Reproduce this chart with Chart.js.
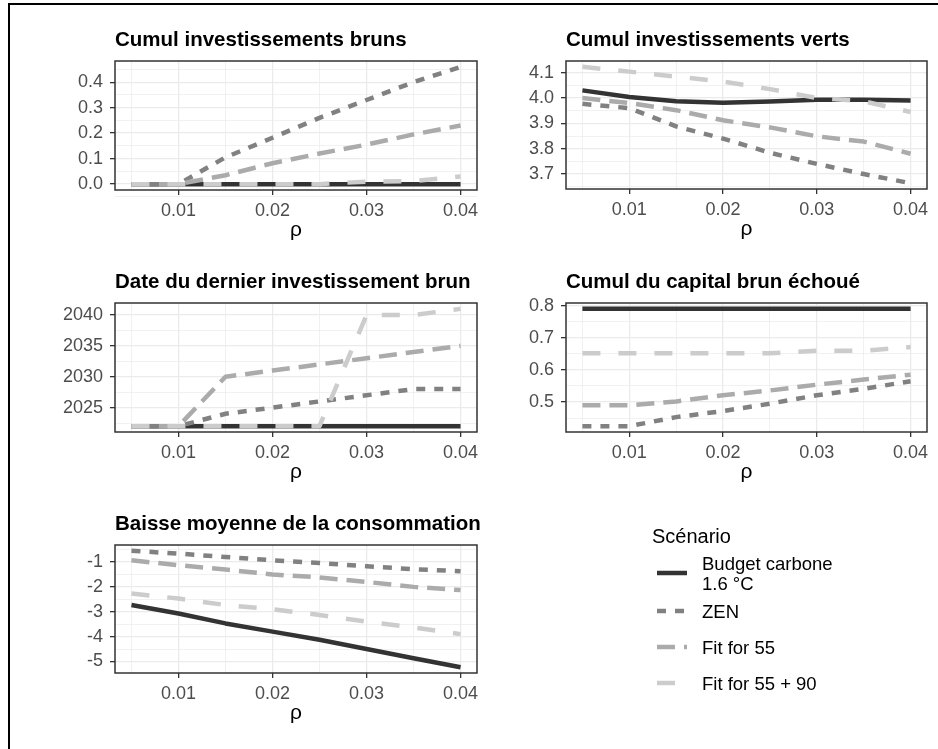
<!DOCTYPE html>
<html>
<head>
<meta charset="utf-8">
<script src="https://cdn.jsdelivr.net/npm/chart.js@4.4.1/dist/chart.umd.min.js"></script>
<style>
  html,body{margin:0;padding:0;background:#fff;}
  body{width:938px;height:749px;position:relative;overflow:hidden;font-family:"Liberation Sans",Arial,sans-serif;}
  canvas{position:absolute;}
  #frame{position:absolute;left:8px;top:3px;width:940px;height:760px;border-left:2px solid #000;border-top:2px solid #000;}
  #legend{position:absolute;left:0;top:0;}
</style>
</head>
<body>
<div id="frame"></div>
<canvas id="p1" width="520" height="245" style="left:0;top:0"></canvas>
<canvas id="p2" width="458" height="245" style="left:480px;top:0"></canvas>
<canvas id="p3" width="520" height="245" style="left:0;top:245px"></canvas>
<canvas id="p4" width="458" height="245" style="left:480px;top:245px"></canvas>
<canvas id="p5" width="520" height="259" style="left:0;top:490px"></canvas>
<svg id="legend" width="938" height="749"></svg>
<script>
// ---- data ----
const rho = [0.005, 0.01, 0.015, 0.02, 0.025, 0.03, 0.035, 0.04];
const scenarios = ['Budget carbone 1.6 °C', 'ZEN', 'Fit for 55', 'Fit for 55 + 90'];
const xTickValues = [0.005, 0.01, 0.015, 0.02, 0.025, 0.03, 0.035, 0.04];
const xTickLabels = ['', '0.01', '', '0.02', '', '0.03', '', '0.04'];

// Cumul investissements bruns
const brunsBudget = [0, 0, 0, 0, 0, 0, 0, 0];
const brunsZEN    = [0, 0, 0.105, 0.182, 0.26, 0.33, 0.40, 0.46];
const brunsFit55  = [0, 0, 0.035, 0.082, 0.12, 0.155, 0.195, 0.23];
const brunsFit90  = [0, 0, 0, 0, 0, 0.01, 0.012, 0.03];
const brunsTicks  = [-0.05, 0, 0.05, 0.1, 0.15, 0.2, 0.25, 0.3, 0.35, 0.4, 0.45];
const brunsLabels = ['', '0.0', '', '0.1', '', '0.2', '', '0.3', '', '0.4', ''];

// Cumul investissements verts
const vertsBudget = [4.03, 4.004, 3.987, 3.981, 3.986, 3.993, 3.993, 3.99];
const vertsZEN    = [3.977, 3.96, 3.888, 3.84, 3.784, 3.74, 3.70, 3.664];
const vertsFit55  = [4.0, 3.98, 3.952, 3.912, 3.884, 3.849, 3.828, 3.78];
const vertsFit90  = [4.123, 4.104, 4.084, 4.065, 4.035, 4.0, 3.987, 3.945];
const vertsTicks  = [3.65, 3.7, 3.75, 3.8, 3.85, 3.9, 3.95, 4.0, 4.05, 4.1];
const vertsLabels = ['', '3.7', '', '3.8', '', '3.9', '', '4.0', '', '4.1'];

// Date du dernier investissement brun
const dateBudget = [2022, 2022, 2022, 2022, 2022, 2022, 2022, 2022];
const dateZEN    = [2022, 2022, 2024, 2025, 2026, 2027, 2028, 2028];
const dateFit55  = [2022, 2022, 2030, 2031, 2032, 2033, 2034, 2035];
const dateFit90  = [2022, 2022, 2022, 2022, 2022, 2040, 2040, 2041];
const dateTicks  = [2022.5, 2025, 2027.5, 2030, 2032.5, 2035, 2037.5, 2040];
const dateLabels = ['', '2025', '', '2030', '', '2035', '', '2040'];

// Cumul du capital brun échoué
const echBudget = [0.79, 0.79, 0.79, 0.79, 0.79, 0.79, 0.79, 0.79];
const echZEN    = [0.425, 0.425, 0.453, 0.472, 0.495, 0.521, 0.541, 0.565];
const echFit55  = [0.49, 0.49, 0.502, 0.521, 0.536, 0.554, 0.57, 0.585];
const echFit90  = [0.652, 0.652, 0.652, 0.652, 0.652, 0.66, 0.66, 0.671];
const echTicks  = [0.45, 0.5, 0.55, 0.6, 0.65, 0.7, 0.75, 0.8];
const echLabels = ['', '0.5', '', '0.6', '', '0.7', '', '0.8'];

// Baisse moyenne de la consommation
const consoBudget = [-2.73, -3.07, -3.47, -3.8, -4.13, -4.5, -4.87, -5.23];
const consoZEN    = [-0.55, -0.66, -0.8, -0.93, -1.04, -1.17, -1.29, -1.37];
const consoFit55  = [-0.93, -1.13, -1.3, -1.5, -1.62, -1.8, -2.0, -2.13];
const consoFit90  = [-2.27, -2.47, -2.73, -2.9, -3.13, -3.4, -3.63, -3.9];
const consoTicks  = [-5, -4.5, -4, -3.5, -3, -2.5, -2, -1.5, -1, -0.5];
const consoLabels = ['-5', '', '-4', '', '-3', '', '-2', '', '-1', ''];

// ---- styles ----
const colors = ['#333333', '#818181', '#ababab', '#cccccc'];
const dashes = [[], [9, 9], [18, 9], [18, 18]];
const LW = 4.5;
const FONT = '"Liberation Sans", Arial, sans-serif';

const panelPlugin = {
  id: 'panel',
  afterDraw(chart, args, opts) {
    const ctx = chart.ctx, a = chart.chartArea;
    ctx.save();
    ctx.strokeStyle = '#333333';
    ctx.lineWidth = 1.5;
    ctx.strokeRect(a.left, a.top, a.right - a.left, a.bottom - a.top);
    ctx.fillStyle = '#000';
    ctx.font = 'bold 20.5px ' + FONT;
    ctx.textAlign = 'left';
    ctx.textBaseline = 'alphabetic';
    ctx.fillText(opts.title, a.left, a.top - 15);
    ctx.font = '21px ' + FONT;
    ctx.textAlign = 'center';
    ctx.textBaseline = 'middle';
    ctx.fillText('ρ', (a.left + a.right) / 2, a.bottom + 40);
    ctx.restore();
  }
};

function makePanel(id, title, series, yTicks, yLabels, box) {
  const all = series.flat();
  const lo = Math.min(...all), hi = Math.max(...all), r = hi - lo;
  const xr = rho[rho.length - 1] - rho[0];
  const datasets = series.map((vals, i) => ({
    label: scenarios[i],
    data: rho.map((x, j) => ({ x: x, y: vals[j] })),
    borderColor: colors[i],
    borderWidth: LW,
    borderDash: dashes[i],
    borderCapStyle: 'butt',
    borderJoinStyle: 'round',
    pointRadius: 0,
    fill: false,
    tension: 0,
    order: 4 - i
  }));
  const grid = () => ({
    color: '#ebebeb',
    lineWidth: (c) => (c.tick && c.tick.minor) ? 0.7 : 1.3,
    drawTicks: true,
    tickLength: 5,
    tickColor: (c) => (c.tick && c.tick.minor) ? 'rgba(0,0,0,0)' : '#333333',
    tickWidth: 1.3
  });
  new Chart(document.getElementById(id), {
    type: 'line',
    data: { datasets },
    plugins: [panelPlugin],
    options: {
      responsive: false,
      animation: false,
      devicePixelRatio: 1,
      layout: { padding: { left: 0, top: box.top, right: box.right, bottom: 0 } },
      plugins: { legend: { display: false }, tooltip: { enabled: false }, title: { display: false }, panel: { title: title } },
      scales: {
        x: {
          type: 'linear',
          min: rho[0] - 0.05 * xr,
          max: rho[rho.length - 1] + 0.05 * xr,
          afterBuildTicks(s) { s.ticks = xTickValues.map((v, k) => ({ value: v, minor: xTickLabels[k] === '' })); },
          afterFit(s) { s.height = box.xh; },
          ticks: {
            autoSkip: false, maxRotation: 0, minRotation: 0, padding: 5,
            color: '#4d4d4d', font: { family: FONT, size: 18 },
            callback: (v, k) => xTickLabels[k]
          },
          grid: grid(),
          border: { display: false }
        },
        y: {
          type: 'linear',
          min: lo - 0.05 * r,
          max: hi + 0.05 * r,
          afterBuildTicks(s) { s.ticks = yTicks.map((v, k) => ({ value: v, minor: yLabels[k] === '' })); },
          afterFit(s) { s.width = box.yw; },
          ticks: {
            autoSkip: false, padding: 7,
            color: '#4d4d4d', font: { family: FONT, size: 18 },
            callback: (v, k) => yLabels[k]
          },
          grid: grid(),
          border: { display: false }
        }
      }
    }
  });
}

makePanel('p1', 'Cumul investissements bruns', [brunsBudget, brunsZEN, brunsFit55, brunsFit90], brunsTicks, brunsLabels,
  { top: 61, right: 43, yw: 115, xh: 55 });
makePanel('p2', 'Cumul investissements verts', [vertsBudget, vertsZEN, vertsFit55, vertsFit90], vertsTicks, vertsLabels,
  { top: 61, right: 11, yw: 86, xh: 56 });
makePanel('p3', 'Date du dernier investissement brun', [dateBudget, dateZEN, dateFit55, dateFit90], dateTicks, dateLabels,
  { top: 58, right: 43, yw: 115, xh: 58 });
makePanel('p4', 'Cumul du capital brun échoué', [echBudget, echZEN, echFit55, echFit90], echTicks, echLabels,
  { top: 58, right: 11, yw: 86, xh: 58 });
makePanel('p5', 'Baisse moyenne de la consommation', [consoBudget, consoZEN, consoFit55, consoFit90], consoTicks, consoLabels,
  { top: 55, right: 43, yw: 115, xh: 76 });

// ---- legend ----
const svg = document.getElementById('legend');
const NS = 'http://www.w3.org/2000/svg';
function el(tag, attrs, text) {
  const e = document.createElementNS(NS, tag);
  for (const k in attrs) e.setAttribute(k, attrs[k]);
  if (text) e.textContent = text;
  svg.appendChild(e);
  return e;
}
el('text', { x: 652, y: 543, 'font-family': FONT, 'font-size': 20, fill: '#000' }, 'Scénario');
const legendY = [573, 611, 647, 683];
const legendText = [['Budget carbone', '1.6 °C'], ['ZEN'], ['Fit for 55'], ['Fit for 55 + 90']];
legendY.forEach((y, i) => {
  el('line', { x1: 657, x2: 687, y1: y, y2: y, stroke: colors[i], 'stroke-width': LW,
    'stroke-dasharray': dashes[i].length ? dashes[i].join(' ') : 'none' });
  const lines = legendText[i];
  if (lines.length === 2) {
    el('text', { x: 702, y: 570, 'font-family': FONT, 'font-size': 18.5, fill: '#000' }, lines[0]);
    el('text', { x: 702, y: 590, 'font-family': FONT, 'font-size': 18.5, fill: '#000' }, lines[1]);
  } else {
    el('text', { x: 702, y: y + 7, 'font-family': FONT, 'font-size': 18.5, fill: '#000' }, lines[0]);
  }
});
</script>
</body>
</html>
